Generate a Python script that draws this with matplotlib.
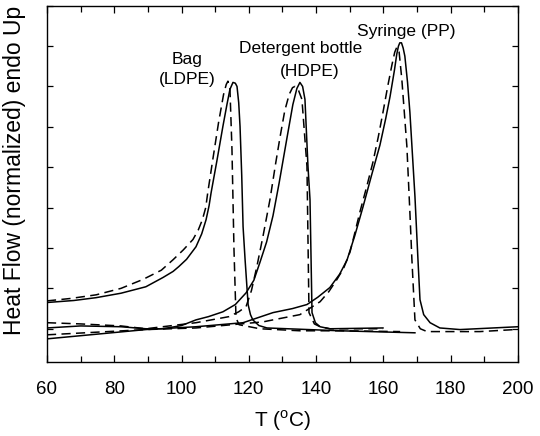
"""DSC melting curves (normalized heat flow) for three waste-plastic items."""

import matplotlib
matplotlib.use("Agg")
import matplotlib.pyplot as plt
from matplotlib.ticker import MultipleLocator

# ---- data (T in degC, heat flow in tick units) ----
bag_solid_t = [60, 68, 74.6, 82, 89.4, 94.5, 97.5, 99.2, 101.5, 104.3, 106.0, 107.3, 108.2, 108.8,
               110.5, 112.3, 113.5, 114.4, 115.3, 116.0, 116.5, 117.0, 117.4, 117.9, 118.3, 118.9,
               119.8, 120.5, 121.2, 123.0, 125.4, 147.1, 169.4]
bag_solid_y = [0.65, 0.70, 0.77, 0.88, 1.04, 1.27, 1.42, 1.54, 1.72, 2.03, 2.35, 2.70, 3.05, 3.37,
               4.15, 5.01, 5.55, 5.93, 6.10, 6.08, 6.00, 5.60, 5.01, 3.80, 2.53, 1.71,
               0.60, 0.35, 0.22, 0.08, 0.02, -0.05, -0.10]

bag_dash_t = [60, 67, 74.6, 82, 88.5, 94.0, 97.5, 100.5, 103.4, 105.0, 106.2, 107.2, 107.8, 109.3,
              111.0, 112.5, 113.3, 113.8, 114.4, 115.0, 115.6, 116.2, 117.1, 123.3, 135.2, 147.1,
              165.0]
bag_dash_y = [0.69, 0.75, 0.84, 1.00, 1.22, 1.45, 1.71, 1.95, 2.21, 2.45, 2.70, 3.00, 3.37, 4.19,
              5.10, 5.80, 6.05, 6.13, 5.93, 4.44, 1.96, 0.27, 0.10, 0.00, -0.05, -0.05,
              -0.07]

hdpe_solid_t = [60, 70, 82, 89.4, 94.5, 100.0, 104.3, 108.0, 112.3, 116.0, 119.2, 121.5, 123.3,
                125.3, 127.2, 129.0, 131.3, 133.1, 134.3, 135.2, 136.0, 136.7, 137.6, 138.2, 138.8,
                139.8, 141.2, 144.1, 159.9]
hdpe_solid_y = [0.02, 0.07, 0.05, 0.00, 0.00, 0.08, 0.22, 0.30, 0.42, 0.60, 0.89, 1.20, 1.64,
                2.15, 2.80, 3.60, 4.70, 5.55, 5.95, 6.10, 6.00, 5.68, 4.02, 3.20, 0.40,
                0.15, 0.05, 0.00, 0.02]

hdpe_dash_t = [60, 70, 82, 89.4, 104.3, 114.1, 117.0, 119.2, 120.8, 122.4, 124.2, 126.3, 128.0,
               129.3, 130.7, 132.0, 133.0, 133.7, 134.8, 135.8, 137.3, 137.9, 139.5, 141.2, 144.1,
               159.9]
hdpe_dash_y = [0.15, 0.12, 0.07, 0.00, 0.15, 0.30, 0.42, 0.55, 0.95, 1.54, 2.28, 3.20, 4.10,
               4.75, 5.40, 5.80, 5.97, 6.00, 5.90, 5.68, 4.02, 0.40, 0.12, 0.05, 0.00,
               0.00]

pp_solid_t = [60, 89.4, 104.3, 118.3, 127.2, 133.0, 137.3, 140.5, 144.1, 147.0, 149.2, 151.5,
              153.9, 156.5, 159.0, 160.7, 162.0, 163.3, 164.0, 164.5, 164.9, 165.4, 165.9, 166.4,
              167.2, 167.9, 169.4, 170.3, 170.9, 172.0, 173.9, 176.8, 182.8, 200.0]
pp_solid_y = [-0.25, -0.02, 0.05, 0.15, 0.40, 0.50, 0.60, 0.78, 1.02, 1.35, 1.70, 2.30,
              3.00, 3.80, 4.55, 5.20, 5.75, 6.40, 6.80, 7.00, 7.08, 7.08, 6.95, 6.75,
              6.10, 5.36, 3.28, 1.71, 0.72, 0.35, 0.15, 0.02, -0.02, 0.05]

pp_dash_t = [60, 89.4, 104.3, 124.2, 127.2, 135.2, 141.2, 143.8, 146.2, 148.2, 150.1, 151.6,
             153.0, 155.0, 156.9, 158.5, 159.9, 161.3, 162.6, 163.4, 164.0, 164.7, 165.5, 167.0,
             167.9, 168.5, 169.4, 171.0, 173.0, 188.7, 199.1]
pp_dash_y = [-0.15, -0.02, 0.02, 0.17, 0.22, 0.35, 0.67, 0.92, 1.22, 1.50, 1.90, 2.40,
             2.88, 3.50, 4.12, 4.75, 5.36, 6.00, 6.55, 6.85, 6.97, 6.85, 6.18, 4.52,
             2.88, 1.71, 0.22, 0.00, -0.07, -0.07, -0.02]

LABELS = [("Bag\n(LDPE)", 101.6, 6.42), ("Detergent bottle", 135.4, 6.93),
          ("(HDPE)", 138.2, 6.38), ("Syringe (PP)", 166.9, 7.37)]

plt.rcParams.update({
    "font.family": ["Liberation Sans", "DejaVu Sans"],
    "mathtext.fontset": "custom",
    "mathtext.rm": "Liberation Sans",
    "font.size": 13,
})

fig = plt.figure(figsize=(5.4, 4.36), dpi=100)
ax = fig.add_axes([0.087, 0.170, 0.872, 0.817])

solid = dict(color="black", lw=1.1)
dash = dict(color="black", lw=1.1, dashes=(6, 3.5))
for t, y in [(bag_solid_t, bag_solid_y), (hdpe_solid_t, hdpe_solid_y), (pp_solid_t, pp_solid_y)]:
    ax.plot(t, y, **solid)
for t, y in [(bag_dash_t, bag_dash_y), (hdpe_dash_t, hdpe_dash_y), (pp_dash_t, pp_dash_y)]:
    ax.plot(t, y, **dash)

for txt, x, y in LABELS:
    ax.text(x, y, txt, ha="center", va="center", fontsize=12.5, linespacing=1.4)

ax.set_xlim(60, 200)
ax.set_ylim(-0.82, 8.0)
ax.xaxis.set_major_locator(MultipleLocator(20))
ax.xaxis.set_minor_locator(MultipleLocator(10))
ax.yaxis.set_major_locator(MultipleLocator(1))
ax.tick_params(which="both", direction="in", top=True, right=True, width=0.9)
ax.tick_params(which="major", length=5, labelsize=13.5, pad=13.5)
ax.tick_params(which="minor", length=4)
ax.tick_params(axis="y", labelleft=False, length=4)
for s in ax.spines.values():
    s.set_linewidth(1.0)

ax.set_xlabel(r"T ($^{\rm o}$C)", fontsize=15, labelpad=8)
ax.set_ylabel("Heat Flow (normalized) endo Up", fontsize=16.5)
ax.yaxis.set_label_coords(-0.045, 0.539)

fig.savefig("out.png", dpi=100)
